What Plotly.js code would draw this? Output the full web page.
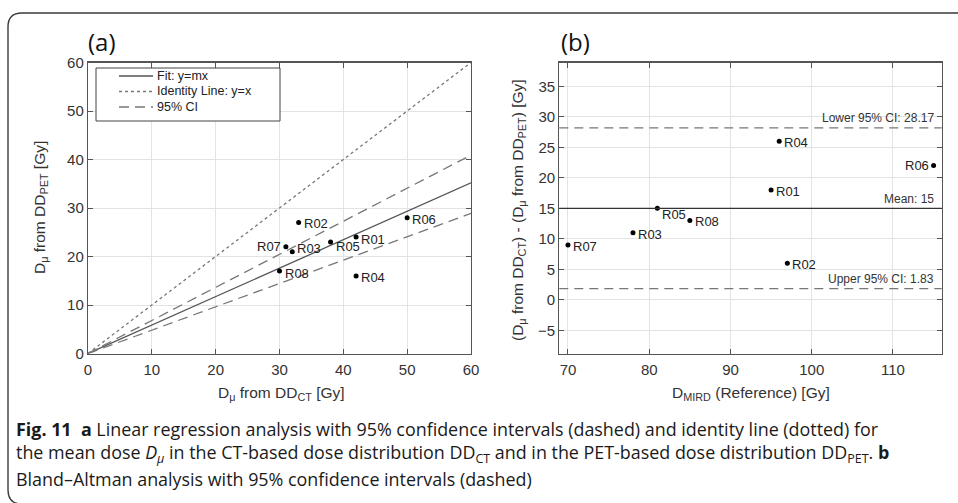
<!DOCTYPE html>
<html>
<head>
<meta charset="utf-8">
<script src="https://cdn.plot.ly/plotly-3.0.1.min.js"></script>
<style>
  html, body { margin: 0; padding: 0; background: #ffffff; }
  #chart { width: 958px; height: 503px; }
</style>
</head>
<body>
<div id="chart"></div>
<script>
// ---------- data ----------
const regions   = ['R01', 'R02', 'R03', 'R04', 'R05', 'R06', 'R07', 'R08'];
const dMuCT     = [42, 33, 32, 42, 38, 50, 31, 30];      // D_mu from DD_CT [Gy]
const dMuPET    = [24, 27, 21, 16, 23, 28, 22, 17];      // D_mu from DD_PET [Gy]
const dMIRD     = [95, 97, 78, 96, 81, 115, 70, 85];     // D_MIRD (Reference) [Gy]
const diffCTPET = [18, 6, 11, 26, 15, 22, 9, 13];        // D_mu(CT) - D_mu(PET) [Gy]

const lineX      = [0, 60];
const fitY       = [0, 35.2];    // Fit: y = mx
const identityY  = [0, 60];      // Identity line y = x
const ciUpperY   = [0, 40.9];    // 95% CI (upper)
const ciLowerY   = [0, 28.9];    // 95% CI (lower)

const baMean     = 15;
const baLowerCI  = 28.17;
const baUpperCI  = 1.83;

const legendNames = ['Fit: y=mx', 'Identity Line: y=x', '95% CI'];

const ticksA  = [0, 10, 20, 30, 40, 50, 60];
const ticksBx = [70, 80, 90, 100, 110];
const ticksBy = [-5, 0, 5, 10, 15, 20, 25, 30, 35];

// ---------- helpers (pixel -> paper, margins are 0) ----------
const W = 958, H = 503;
const px = v => v / W;
const py = v => 1 - v / H;

const SANS = 'Liberation Sans, Arial, sans-serif';
const tickFont  = { family: SANS, size: 15, color: '#333333' };
const labelFont = { family: SANS, size: 13, color: '#222222' };
const lineLabFont = { family: SANS, size: 12, color: '#333333' };
const titleFont = { family: SANS, size: 15.5, color: '#333333' };
const capFont   = { family: 'Open Sans, Noto Sans, sans-serif', size: 17.9, color: '#1a1a1a' };

const fitStyle = { color: '#555555', width: 1.3 };
const idStyle  = { color: '#777777', width: 1.3, dash: 'dot' };
const ciStyle  = { color: '#777777', width: 1.3, dash: '10px,6px' };

// label placement: [side, yshift]
const placeA = { R01: ['r', -2], R02: ['r', -1], R03: ['r', 3], R04: ['r', -2], R05: ['r', -5], R06: ['r', -2], R07: ['l', 0], R08: ['r', -2] };
const placeB = { R01: ['r', -1], R02: ['r', -1], R03: ['r', -2], R04: ['r', -1], R05: ['r', -6], R06: ['l', 0], R07: ['r', -2], R08: ['r', -1] };

// ---------- traces ----------
const traces = [
  { x: lineX, y: fitY, xaxis: 'x', yaxis: 'y', mode: 'lines', name: legendNames[0], line: fitStyle, showlegend: false },
  { x: lineX, y: identityY, xaxis: 'x', yaxis: 'y', mode: 'lines', name: legendNames[1], line: idStyle, showlegend: false },
  { x: lineX, y: ciUpperY, xaxis: 'x', yaxis: 'y', mode: 'lines', name: legendNames[2], line: ciStyle, showlegend: false },
  { x: lineX, y: ciLowerY, xaxis: 'x', yaxis: 'y', mode: 'lines', name: legendNames[2], line: ciStyle, showlegend: false },
  { x: dMuCT, y: dMuPET, xaxis: 'x', yaxis: 'y', mode: 'markers', showlegend: false, text: regions,
    marker: { color: '#000000', size: 5 } },
  { x: dMIRD, y: diffCTPET, xaxis: 'x2', yaxis: 'y2', mode: 'markers', showlegend: false, text: regions,
    marker: { color: '#000000', size: 5 } }
];

// ---------- annotations ----------
const annotations = [];
regions.forEach((r, i) => {
  const a = placeA[r];
  annotations.push({ xref: 'x', yref: 'y', x: dMuCT[i], y: dMuPET[i], text: r, showarrow: false,
    xanchor: a[0] === 'r' ? 'left' : 'right', xshift: a[0] === 'r' ? 3 : -3, yshift: a[1],
    font: labelFont });
  const b = placeB[r];
  annotations.push({ xref: 'x2', yref: 'y2', x: dMIRD[i], y: diffCTPET[i], text: r, showarrow: false,
    xanchor: b[0] === 'r' ? 'left' : 'right', xshift: b[0] === 'r' ? 3 : -3, yshift: b[1],
    font: labelFont });
});

// Bland-Altman line labels
annotations.push(
  { xref: 'x2 domain', yref: 'y2', x: 0.985, y: baLowerCI, text: 'Lower 95% CI: ' + baLowerCI.toFixed(2),
    showarrow: false, xanchor: 'right', yanchor: 'bottom', yshift: 1, font: lineLabFont },
  { xref: 'x2 domain', yref: 'y2', x: 0.985, y: baMean, text: 'Mean: ' + baMean,
    showarrow: false, xanchor: 'right', yanchor: 'bottom', yshift: 0, font: lineLabFont },
  { xref: 'x2 domain', yref: 'y2', x: 0.985, y: baUpperCI, text: 'Upper 95% CI: ' + baUpperCI.toFixed(2),
    showarrow: false, xanchor: 'right', yanchor: 'bottom', yshift: 1, font: lineLabFont }
);

// panel tags
annotations.push(
  { xref: 'paper', yref: 'paper', x: px(86), y: py(42), text: '(a)', showarrow: false, xanchor: 'left', yanchor: 'middle',
    font: { family: 'Open Sans, sans-serif', size: 24, color: '#111111' } },
  { xref: 'paper', yref: 'paper', x: px(559), y: py(42), text: '(b)', showarrow: false, xanchor: 'left', yanchor: 'middle',
    font: { family: 'Open Sans, sans-serif', size: 24, color: '#111111' } }
);

// axis titles
annotations.push(
  { xref: 'paper', yref: 'paper', x: px(281), y: py(393), text: 'D<sub>μ</sub> from DD<sub>CT</sub> [Gy]', showarrow: false,
    xanchor: 'center', yanchor: 'middle', font: titleFont },
  { xref: 'paper', yref: 'paper', x: px(751), y: py(393), text: 'D<sub>MIRD</sub> (Reference) [Gy]', showarrow: false,
    xanchor: 'center', yanchor: 'middle', font: titleFont },
  { xref: 'paper', yref: 'paper', x: px(41), y: py(208), text: 'D<sub>μ</sub> from DD<sub>PET</sub> [Gy]', showarrow: false,
    textangle: -90, xanchor: 'center', yanchor: 'middle', font: titleFont },
  { xref: 'paper', yref: 'paper', x: px(518), y: py(210), text: '(D<sub>μ</sub> from DD<sub>CT</sub>) - (D<sub>μ</sub> from DD<sub>PET</sub>) [Gy]', showarrow: false,
    textangle: -90, xanchor: 'center', yanchor: 'middle', font: titleFont }
);

// manual legend (panel a)
const legRows = [76, 91.5, 107];
const legStyles = [fitStyle, idStyle, ciStyle];
legendNames.forEach((n, i) => {
  annotations.push({ xref: 'paper', yref: 'paper', x: px(155), y: py(legRows[i]), text: n, showarrow: false,
    xanchor: 'left', yanchor: 'middle', font: { family: SANS, size: 12.5, color: '#222222' } });
});

// caption
const capLines = [
  '<b>Fig. 11</b>\u00a0\u00a0<b>a</b> Linear regression analysis with 95% confidence intervals (dashed) and identity line (dotted) for',
  'the mean dose <i>D<sub>μ</sub></i> in the CT-based dose distribution DD<sub>CT</sub> and in the PET-based dose distribution DD<sub>PET</sub>. <b>b</b>',
  'Bland–Altman analysis with 95% confidence intervals (dashed)'
];
const capY = [429, 453, 479];
capLines.forEach((t, i) => {
  annotations.push({ xref: 'paper', yref: 'paper', x: px(14), y: py(capY[i]), text: t, showarrow: false,
    xanchor: 'left', yanchor: 'middle', font: capFont });
});

// ---------- shapes ----------
const cardPath = 'M ' + px(958) + ' ' + py(13) + ' L ' + px(22) + ' ' + py(13) +
  ' Q ' + px(8) + ' ' + py(13) + ' ' + px(8) + ' ' + py(27) +
  ' L ' + px(8) + ' ' + py(490) +
  ' Q ' + px(8) + ' ' + py(504) + ' ' + px(22) + ' ' + py(504);

const shapes = [
  { type: 'path', xref: 'paper', yref: 'paper', path: cardPath, line: { color: '#3a3a3a', width: 1.4 }, layer: 'below' },
  { type: 'rect', xref: 'paper', yref: 'paper', x0: px(96), x1: px(280), y0: py(68), y1: py(121),
    fillcolor: '#ffffff', line: { color: '#444444', width: 1 }, layer: 'above' },
  { type: 'line', xref: 'x2 domain', yref: 'y2', x0: 0, x1: 1, y0: baMean, y1: baMean,
    line: { color: '#333333', width: 1.3 } },
  { type: 'line', xref: 'x2 domain', yref: 'y2', x0: 0, x1: 1, y0: baLowerCI, y1: baLowerCI,
    line: { color: '#777777', width: 1.3, dash: '9px,6px' } },
  { type: 'line', xref: 'x2 domain', yref: 'y2', x0: 0, x1: 1, y0: baUpperCI, y1: baUpperCI,
    line: { color: '#777777', width: 1.3, dash: '9px,6px' } }
];
legStyles.forEach((s, i) => {
  shapes.push({ type: 'line', xref: 'paper', yref: 'paper', x0: px(119), x1: px(153), y0: py(legRows[i]), y1: py(legRows[i]),
    line: s, layer: 'above' });
});

// ---------- axes ----------
const axisCommon = {
  ticks: 'inside', ticklen: 5, tickcolor: '#555555', showline: true, mirror: 'ticks',
  linecolor: '#555555', linewidth: 1.2, showgrid: true, gridcolor: '#e3e3e3', gridwidth: 1,
  zeroline: false, tickfont: tickFont, automargin: false, fixedrange: true
};
const yDomain = [py(353.5), py(62.5)];

const layout = {
  width: W, height: H,
  margin: { l: 0, r: 0, t: 0, b: 0, pad: 0 },
  paper_bgcolor: '#ffffff', plot_bgcolor: '#ffffff',
  showlegend: false,
  xaxis: Object.assign({}, axisCommon, { domain: [px(88), px(471)], range: [0, 60], tickvals: ticksA, anchor: 'y', ticklabelstandoff: 2 }),
  yaxis: Object.assign({}, axisCommon, { domain: yDomain, range: [0, 60], tickvals: ticksA, anchor: 'x' }),
  xaxis2: Object.assign({}, axisCommon, { domain: [px(559.3), px(941.7)], range: [68.93, 116.0], tickvals: ticksBx, anchor: 'y2', ticklabelstandoff: 2 }),
  yaxis2: Object.assign({}, axisCommon, { domain: yDomain, range: [-8.8, 38.9], tickvals: ticksBy, anchor: 'x2' }),
  annotations: annotations,
  shapes: shapes
};

Plotly.newPlot('chart', traces, layout, { displayModeBar: false, staticPlot: true });
</script>
</body>
</html>
